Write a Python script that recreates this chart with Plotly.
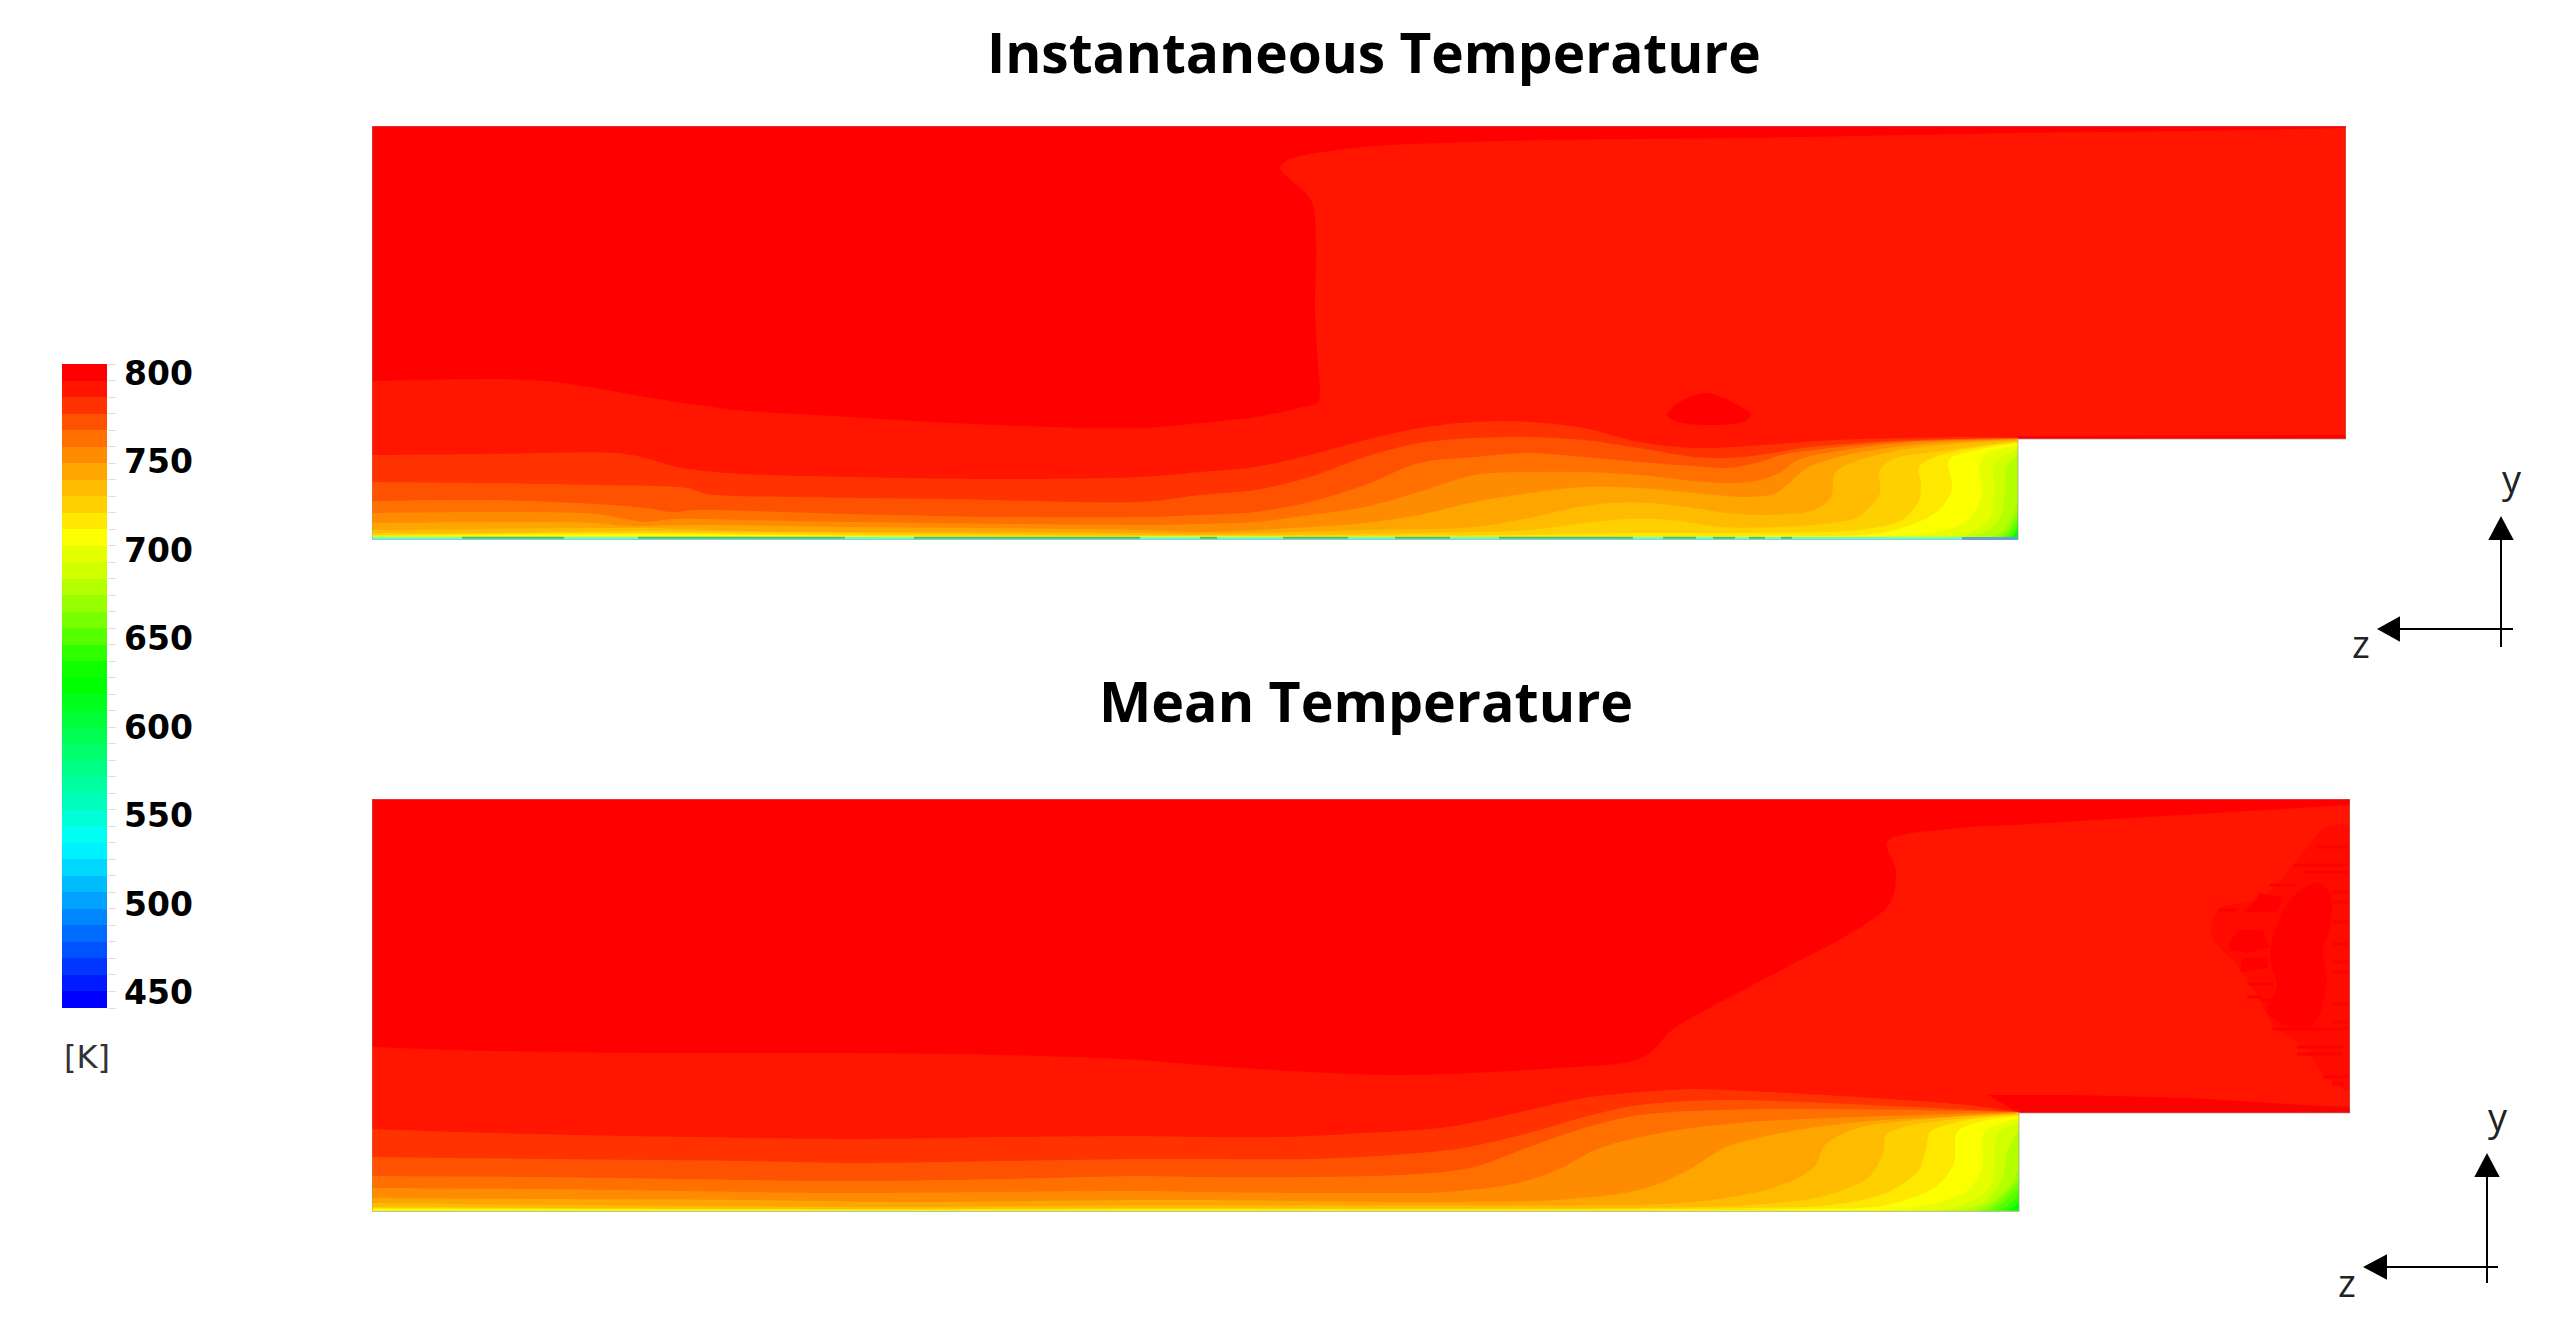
import colorsys
import plotly.graph_objects as go

W, H = 2570, 1331

# ---------- colour bar ----------
T_MAX, T_MIN, N_BANDS = 800.0, 450.0, 39
band_width = (T_MAX - T_MIN) / N_BANDS
band_temps = [T_MAX - (k + 0.5) * band_width for k in range(N_BANDS)]
band_edges = [T_MAX - k * band_width for k in range(N_BANDS + 1)]
cbar_tick_text = ["800", "750", "700", "650", "600", "550", "500", "450"]
cbar_tick_vals = [795.1, 747.0, 698.9, 650.8, 602.7, 554.6, 506.4, 458.3]
cbar_unit = "[K]"
warm_band_colors = ["#ff0000", "#ff1500", "#ff3200", "#ff5200", "#ff7000", "#ff8c00", "#ffa500",
                    "#ffbb00", "#ffd000", "#ffe800", "#fbff00", "#e6ff00", "#d0ff00", "#b4ff00",
                    "#98ff00", "#78ff00", "#55ff00", "#30ff00", "#10ff00", "#00ff00"]

# ---------- Instantaneous panel: isotherms (channel distance z, height y) ----------
top_outline_z = [0, 1646, 1646, 1974, 1974, 0, 0]
top_outline_y = [0, 0, 101, 101, 414, 414, 0]

top_iso1_z = [0,121,172,223,274,325,376,478,580,682,768,828,883,927,946,948,947,943,944,939,908,916,981,1134,1364,1593,1646]
top_iso1_y = [159,161,159,152,143,135,129,123,117,113,112,117,123,132,138,150,163,230,297,340,372,380,392,399,402,406,407]
top_iso1b_z = [1640,1823,1974,1974,1640,1640]
top_iso1b_y = [407,409,412,101,101,407]
top_iso2_z = [0,121,244,274,305,356,478,631,768,828,883,938,993,1047,1102,1157,1212,1267,1322,1377,1431,1486,1541,1596,1646]
top_iso2_y = [85,86,87,82,73,67,63,61,63,68,73,85,100,112,118,118,112,98,92,94,98,101,102,103,102]
top_iso3_z = [0,121,223,315,335,427,580,768,828,883,938,993,1047,1102,1157,1212,1267,1322,1355,1388,1431,1486,1541,1646]
top_iso3_y = [58,57,55,52,46,43,41,38,45,50,63,83,97,102,103,100,92,83,82,85,92,97,100,102]
top_iso4_z = [0,121,223,274,300,325,478,631,768,828,883,938,993,1047,1102,1157,1212,1267,1322,1355,1388,1409,1442,1486,1541,1646]
top_iso4_y = [39,40,36,32,28,30,26,23,23,25,28,38,55,77,83,87,83,78,74,72,78,85,90,95,99,102]
top_iso5_z = [0,121,223,259,274,300,376,478,768,828,883,938,993,1047,1102,1157,1212,1267,1322,1355,1388,1409,1426,1486,1541,1646]
top_iso5_y = [27,28,26,20,18,21,20,18,15,16,18,25,33,48,65,68,68,65,59,57,60,68,80,92,98,101]
top_iso6_z = [0,121,223,254,325,478,768,828,938,993,1047,1102,1157,1212,1267,1322,1377,1404,1420,1437,1475,1541,1646]
top_iso6_y = [17,18,17,14,15,13,10,8,13,17,25,38,47,53,52,47,43,47,60,73,85,95,101]
top_iso7_z = [0,121,223,269,376,768,828,993,1102,1157,1201,1239,1278,1322,1355,1393,1442,1459,1463,1481,1541,1646]
top_iso7_y = [10,11,12,12,9,7,6,10,13,22,32,37,37,32,27,25,30,43,67,78,92,100]
top_iso8_z = [0,121,274,478,768,828,993,1157,1212,1256,1300,1349,1404,1459,1486,1508,1507,1519,1569,1646]
top_iso8_y = [7,7,9,7,5,5,6,10,17,21,20,13,13,17,23,47,68,80,89,99]
top_iso9_z = [0,274,478,768,828,1157,1267,1377,1486,1530,1547,1549,1547,1563,1607,1646]
top_iso9_y = [5,7,5,4,4,5,7,7,10,20,40,57,73,83,93,98]
top_iso10_z = [0,274,478,768,1377,1514,1563,1580,1577,1596,1646]
top_iso10_y = [4,6,4,3.5,4,8,27,50,80,88,97]
top_iso11_z = [0,768,1300,1558,1596,1610,1607,1612,1646]
top_iso11_y = [3.5,3.3,3.5,7,20,47,70,85,95]
top_iso12_z = [0,1300,1596,1618,1622,1622,1646]
top_iso12_y = [3.2,3.2,7,23,53,77,90]
top_iso13_z = [0,1300,1612,1630,1633,1635,1646]
top_iso13_y = [3,3,7,27,53,73,85]
top_iso14_z = [0,1500,1625,1640,1646]
top_iso14_y = [2.8,2.8,5,22,40]
top_iso15_z = [0,1500,1630,1646]
top_iso15_y = [2.6,2.6,4,30]
top_iso16_z = [0,1500,1633,1646]
top_iso16_y = [2.4,2.4,3.5,22]
top_iso17_z = [0,1600,1637,1646]
top_iso17_y = [2.2,2.2,3,15]
top_iso18_z = [1620,1640,1646]
top_iso18_y = [2,3,11]

top_bubble_z = [1295,1306,1333,1356,1379,1371,1333,1306,1295]
top_bubble_y = [125,137,147,140,125,118,115,118,125]
top_strip_z = [1646,1646,1800,1974,1974,1646]
top_strip_y = [101,104,104.5,105,101,101]

top_floor_base_z = [0, 1646]
top_floor_base_y = [1.5, 1.5]
top_floor_dark_z = [90,192,None,266,473,None,542,768,None,828,845,None,911,976,None,1023,1078,None,1127,1261,None,1291,1324,None,1341,1363,None,1377,1393,None,1409,1420]
top_floor_dark_y = [2.2,2.2,None,2.2,2.2,None,2.2,2.2,None,2.2,2.2,None,2.2,2.2,None,2.2,2.2,None,2.2,2.2,None,2.2,2.2,None,2.2,2.2,None,2.2,2.2,None,2.2,2.2]
top_floor_blue_z = [1590, 1646]
top_floor_blue_y = [1.5, 1.5]

# ---------- Mean panel ----------
mean_outline_z = [0, 1647, 1647, 1978, 1978, 0, 0]
mean_outline_y = [0, 0, 99, 99, 413, 413, 0]

mean_iso1_z = [0,121,274,478,631,768,828,938,1020,1102,1185,1256,1278,1300,1358,1415,1484,1518,1524,1515,1587,1647]
mean_iso1_y = [165,161,159,159,157,152,147,140,137,139,144,150,159,182,215,245,282,309,342,370,384,387]
mean_iso1b_z = [1640,1759,1932,1978,1978,1640,1640]
mean_iso1b_y = [387,394,404,407,99,99,387]
mean_iso2_z = [0,121,325,478,631,768,828,910,993,1075,1157,1212,1267,1322,1377,1486,1596,1647]
mean_iso2_y = [83,79,75,73,75,76,75,75,79,85,102,114,120,123,121,115,107,100]
mean_iso3_z = [0,172,376,478,631,768,828,938,1020,1091,1157,1212,1267,1349,1431,1541,1647]
mean_iso3_y = [55,53,51,49,51,53,53,53,57,64,79,95,107,112,110,105,100]
mean_iso4_z = [0,172,376,478,631,768,828,938,1047,1102,1157,1212,1267,1349,1431,1541,1647]
mean_iso4_y = [36,35,32,31,33,36,35,35,38,45,65,84,97,102,103,102,100]
mean_iso5_z = [0,172,376,478,768,828,993,1075,1146,1185,1228,1294,1377,1486,1647]
mean_iso5_y = [24,23,20,19,21,20,19,20,29,42,64,80,90,95,100]
mean_iso6_z = [0,172,376,529,768,828,1047,1185,1267,1311,1355,1409,1486,1569,1647]
mean_iso6_y = [14,13,12,10,12,12,10,12,22,39,65,79,90,95,99]
mean_iso7_z = [0,223,529,768,828,1212,1322,1404,1442,1453,1486,1569,1647]
mean_iso7_y = [9,7,5,7,7,7,10,25,45,67,84,94,99]
mean_iso8_z = [0,529,768,828,1267,1377,1448,1497,1511,1514,1541,1596,1647]
mean_iso8_y = [5,3,4,4,4,7,15,35,59,77,87,94,98]
mean_iso9_z = [0,529,768,1377,1459,1514,1547,1555,1558,1596,1647]
mean_iso9_y = [4,2.5,3,4,7,19,42,69,80,92,97]
mean_iso10_z = [0,768,1431,1514,1563,1582,1585,1607,1647]
mean_iso10_y = [3,2,3,7,25,49,80,90,96]
mean_iso11_z = [1450,1541,1596,1610,1612,1647]
mean_iso11_y = [1,4,22,45,79,94]
mean_iso12_z = [1500,1585,1618,1623,1626,1647]
mean_iso12_y = [1,5,25,59,79,89]
mean_iso13_z = [1550,1608,1630,1636,1647]
mean_iso13_y = [1,7,32,62,82]
mean_iso14_z = [1590,1612,1640,1647]
mean_iso14_y = [1,5,28,48]
mean_iso15_z = [1600,1618,1647]
mean_iso15_y = [1,4,32]
mean_iso16_z = [1610,1623,1647]
mean_iso16_y = [1,3.7,24]
mean_iso17_z = [1620,1632,1647]
mean_iso17_y = [1,3.7,17]
mean_iso18_z = [1628,1637,1647]
mean_iso18_y = [1,2,10]

mean_haze_z = [1955,1920,1891,1846,1840,1863,1886,1903,1932,1955,1978,1978,1955]
mean_haze_y = [385,345,315,302,275,249,215,185,165,135,122,385,385]
mean_core_z = [1908,1925,1945,1958,1958,1951,1955,1948,1938,1908,1895,1905,1898,1908]
mean_core_y = [295,319,329,319,285,262,232,199,185,189,202,225,255,295]
mean_blob1_z = [1858,1868,1891,1898,1875,1858,1858]
mean_blob1_y = [272,282,282,265,259,262,272]
mean_blob2_z = [1870,1895,1896,1868,1870]
mean_blob2_y = [254,255,244,240,254]
mean_blob3_z = [1888,1911,1905,1871,1881,1888]
mean_blob3_y = [319,315,300,300,309,319]
mean_streak_z = [1945,1975,None,1921,1975,None,1930,1975,None,1898,1925,None,1961,1975,None,1961,1975,None,1846,1865,None,1961,1975,None,1961,1975,None,1961,1975,None,1961,1975,None,1875,1901,None,1875,1890,None,1888,1921,None,1961,1975,None,1895,1940,None,1961,1975,None,1900,1975,None,1925,1971,None,1925,1971,None,1951,1975,None,1960,1972]
mean_streak_y = [365,365,None,347,347,None,340,340,None,327,327,None,320,320,None,310,310,None,302,302,None,290,290,None,268,268,None,250,250,None,240,240,None,228,228,None,215,215,None,212,212,None,208,208,None,200,200,None,190,190,None,183,183,None,165,165,None,158,158,None,135,135,None,128,128]
mean_strip_z = [1616,1702,1817,1932,1978,1978,1647,1640,1616]
mean_strip_y = [117,117,114,107,105,99,99,103,117]

mean_floor_z = [0, 1647]
mean_floor_y = [0.6, 0.6]

# ---------- Text ----------
title_top = "Instantaneous Temperature"
title_mean = "Mean Temperature"

TOP_ISOS = [
    (1, top_iso1_z, top_iso1_y), (2, top_iso2_z, top_iso2_y), (3, top_iso3_z, top_iso3_y),
    (4, top_iso4_z, top_iso4_y), (5, top_iso5_z, top_iso5_y), (6, top_iso6_z, top_iso6_y),
    (7, top_iso7_z, top_iso7_y), (8, top_iso8_z, top_iso8_y), (9, top_iso9_z, top_iso9_y),
    (10, top_iso10_z, top_iso10_y), (11, top_iso11_z, top_iso11_y), (12, top_iso12_z, top_iso12_y),
    (13, top_iso13_z, top_iso13_y), (14, top_iso14_z, top_iso14_y), (15, top_iso15_z, top_iso15_y),
    (16, top_iso16_z, top_iso16_y), (17, top_iso17_z, top_iso17_y), (19, top_iso18_z, top_iso18_y),
]
MEAN_ISOS = [
    (1, mean_iso1_z, mean_iso1_y), (2, mean_iso2_z, mean_iso2_y), (3, mean_iso3_z, mean_iso3_y),
    (4, mean_iso4_z, mean_iso4_y), (5, mean_iso5_z, mean_iso5_y), (6, mean_iso6_z, mean_iso6_y),
    (7, mean_iso7_z, mean_iso7_y), (8, mean_iso8_z, mean_iso8_y), (9, mean_iso9_z, mean_iso9_y),
    (10, mean_iso10_z, mean_iso10_y), (11, mean_iso11_z, mean_iso11_y), (12, mean_iso12_z, mean_iso12_y),
    (13, mean_iso13_z, mean_iso13_y), (14, mean_iso14_z, mean_iso14_y), (15, mean_iso15_z, mean_iso15_y),
    (16, mean_iso16_z, mean_iso16_y), (17, mean_iso17_z, mean_iso17_y), (19, mean_iso18_z, mean_iso18_y),
]


def band_color(k):
    if k < len(warm_band_colors):
        return warm_band_colors[k]
    r, g, b = colorsys.hsv_to_rgb(240.0 * k / (N_BANDS - 1) / 360.0, 1, 1)
    return f"rgb({round(r*255)},{round(g*255)},{round(b*255)})"


def px(x):
    return x / W


def py(y):
    return 1 - y / H


fig = go.Figure()


def region(z, y, color, xa, ya, fill="toself", shape="linear"):
    fig.add_trace(go.Scatter(x=z, y=y, xaxis=xa, yaxis=ya, mode="lines", fill=fill,
                             fillcolor=color, line=dict(width=0, shape=shape, smoothing=0.9),
                             showlegend=False, hoverinfo="skip"))


def panel(outline_z, outline_y, isos, first_extra, overlays, xa, ya):
    region(outline_z, outline_y, band_color(0), xa, ya)
    for k, z, y in isos:
        # every isotherm bounds the colder side, down to the channel floor
        region(z, y, band_color(k), xa, ya, fill="tozeroy", shape="spline")
        if k == 1:
            region(first_extra[0], first_extra[1], band_color(1), xa, ya)
            for oz, oy, shp, col in overlays:
                region(oz, oy, col, xa, ya, shape=shp)


def line(z, y, color, width, xa, ya):
    fig.add_trace(go.Scatter(x=z, y=y, xaxis=xa, yaxis=ya, mode="lines",
                             line=dict(color=color, width=width), showlegend=False,
                             hoverinfo="skip", connectgaps=False))


RED = band_color(0)
panel(top_outline_z, top_outline_y, TOP_ISOS, (top_iso1b_z, top_iso1b_y),
      [(top_bubble_z, top_bubble_y, "spline", RED), (top_strip_z, top_strip_y, "linear", RED)], "x", "y")
line(top_floor_base_z, top_floor_base_y, "#6cf8d8", 3, "x", "y")
line(top_floor_dark_z, top_floor_dark_y, "#50b880", 2, "x", "y")
line(top_floor_blue_z, top_floor_blue_y, "#58a5d8", 3, "x", "y")
line(top_outline_z, top_outline_y, "rgba(150,150,150,0.45)", 1.5, "x", "y")

panel(mean_outline_z, mean_outline_y, MEAN_ISOS, (mean_iso1b_z, mean_iso1b_y),
      [(mean_haze_z, mean_haze_y, "spline", "#ff0b00"), (mean_core_z, mean_core_y, "spline", RED),
       (mean_blob1_z, mean_blob1_y, "linear", RED), (mean_blob2_z, mean_blob2_y, "linear", RED),
       (mean_blob3_z, mean_blob3_y, "linear", RED), (mean_strip_z, mean_strip_y, "linear", RED)], "x2", "y2")
line(mean_streak_z, mean_streak_y, RED, 3, "x2", "y2")
line(mean_floor_z, mean_floor_y, "#c9dc8c", 1.5, "x2", "y2")
line(mean_outline_z, mean_outline_y, "rgba(150,150,150,0.45)", 1.5, "x2", "y2")

# colour bar as a single-column heatmap on its own temperature axis
fig.add_trace(go.Heatmap(
    x=[0], y=band_temps, z=[[t] for t in band_temps], xaxis="x3", yaxis="y3",
    zmin=band_temps[-1], zmax=band_temps[0], showscale=False, hoverinfo="skip",
    colorscale=[[(N_BANDS - 1 - k) / (N_BANDS - 1), band_color(k)] for k in range(N_BANDS - 1, -1, -1)],
))

hidden = dict(visible=False, fixedrange=True)


def triad(xv, y_tip, y_base, y_end, yh, x_tip, x_base, x_end):
    lc = dict(color="#000", width=2)
    return [
        dict(type="line", xref="paper", yref="paper", x0=px(xv), x1=px(xv), y0=py(y_base), y1=py(y_end), line=lc),
        dict(type="line", xref="paper", yref="paper", x0=px(x_base), x1=px(x_end), y0=py(yh), y1=py(yh), line=lc),
        dict(type="path", xref="paper", yref="paper", line=dict(width=0), fillcolor="#000",
             path=f"M {px(xv)} {py(y_tip)} L {px(xv-12.7)} {py(y_base)} L {px(xv+12.7)} {py(y_base)} Z"),
        dict(type="path", xref="paper", yref="paper", line=dict(width=0), fillcolor="#000",
             path=f"M {px(x_tip)} {py(yh)} L {px(x_base)} {py(yh-12.7)} L {px(x_base)} {py(yh+12.7)} Z"),
    ]


def label(text, x, y, size, bold=False, family="Open Sans", color="#000"):
    return dict(text=f"<b>{text}</b>" if bold else text, x=px(x), y=py(y), xref="paper", yref="paper",
                showarrow=False, xanchor="center", yanchor="middle",
                font=dict(family=family, size=size, color=color))


fig.update_layout(
    width=W, height=H, margin=dict(l=0, r=0, t=0, b=0, pad=0, autoexpand=False),
    paper_bgcolor="white", plot_bgcolor="white", showlegend=False,
    xaxis=dict(domain=[px(372), px(2346)], range=[0, 1974], anchor="y", **hidden),
    yaxis=dict(domain=[py(540), py(126)], range=[0, 414], anchor="x", **hidden),
    xaxis2=dict(domain=[px(372), px(2350)], range=[0, 1978], anchor="y2", **hidden),
    yaxis2=dict(domain=[py(1212), py(799)], range=[0, 413], anchor="x2", **hidden),
    xaxis3=dict(domain=[px(62), px(107)], range=[-0.5, 0.5], anchor="y3", **hidden),
    yaxis3=dict(domain=[py(1008), py(364)], range=[T_MIN, T_MAX], anchor="x3", side="right",
                fixedrange=True, showgrid=False, zeroline=False, showline=False,
                tickmode="array", tickvals=cbar_tick_vals, ticktext=cbar_tick_text,
                ticks="", ticklabelstandoff=16,
                tickfont=dict(family="DejaVu Sans", size=33, color="#000", weight="bold"),
                minor=dict(tickmode="array", tickvals=band_edges, ticks="outside", ticklen=8,
                           tickcolor="#dddddd", tickwidth=1, showgrid=False)),
    shapes=triad(2501, 516, 540, 647, 629, 2377, 2400, 2513) + triad(2487, 1153, 1177, 1283, 1267, 2363, 2387, 2498),
    annotations=[
        label(title_top, 1374, 51, 55, bold=True),
        label(title_mean, 1366, 700, 55.5, bold=True),
        label(cbar_unit, 87, 1057, 32, family="DejaVu Sans", color="#333"),
        label("y", 2512, 478, 38, color="#222"),
        label("z", 2361, 643, 38, color="#222"),
        label("y", 2498, 1116, 38, color="#222"),
        label("z", 2347, 1282, 38, color="#222"),
    ],
)

fig.write_html("out.html", post_script="document.body.style.margin='0';", config={"displayModeBar": False})
